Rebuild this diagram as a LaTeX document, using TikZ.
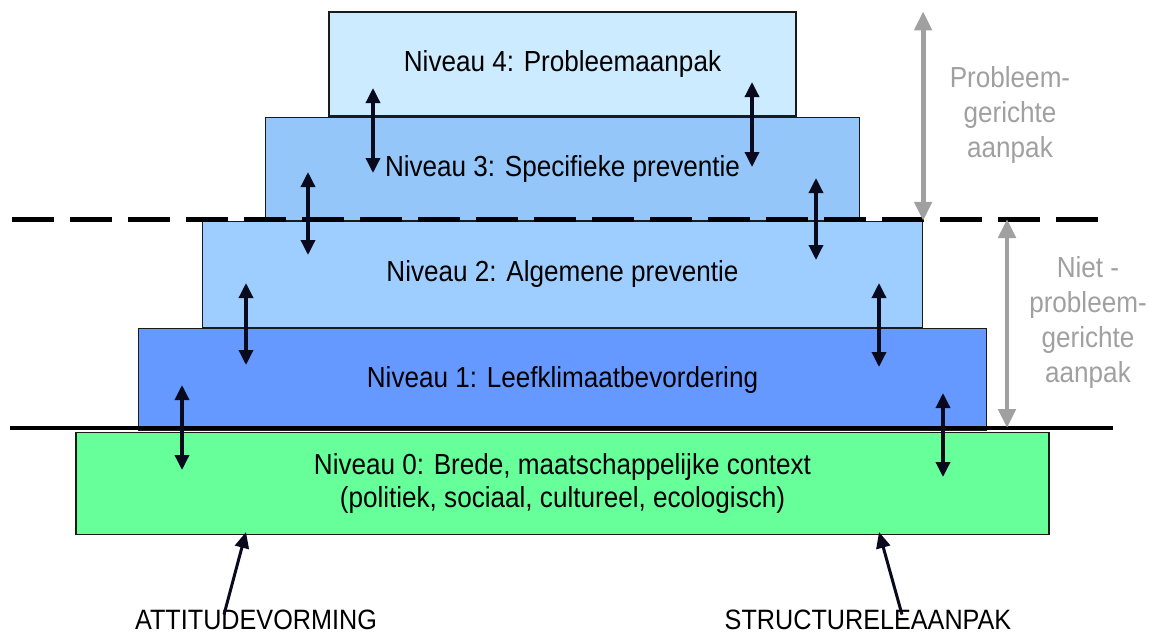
\documentclass[tikz,border=0pt]{standalone}
\usepackage{fontspec}
\setmainfont{Liberation Sans}[FakeStretch=0.9]
\usetikzlibrary{positioning,arrows.meta}
\definecolor{lvlfour}{HTML}{CCEBFF}
\definecolor{lvlthree}{HTML}{94C6F9}
\definecolor{lvltwo}{HTML}{9ECEFF}
\definecolor{lvlone}{HTML}{6699FF}
\definecolor{lvlzero}{HTML}{66FF99}
\definecolor{edge}{HTML}{1A1A1A}
\definecolor{ink}{HTML}{0A0A1E}
\definecolor{note}{HTML}{A0A0A0}
\tikzset{
  lvl/.style={draw=edge, fill=#1, line width=1.2pt, inner sep=0pt, align=center, font=\fontsize{29}{33}\selectfont},
  dbl/.style={{Triangle[length=15pt,width=14pt]}-{Triangle[length=15pt,width=14pt]}, line width=3.4pt, ink},
  arr/.style={-{Triangle[length=16pt,width=14pt]}, line width=3pt, ink},
  gap/.style={{Triangle[length=19pt,width=17pt]}-{Triangle[length=19pt,width=17pt]}, line width=4.8pt, note},
  notelbl/.style={font=\fontsize{29}{35}\selectfont, text=note, align=center},
  lowlbl/.style={font=\fontsize{28}{32}\selectfont},
}
\begin{document}
\begin{tikzpicture}[x=1pt, y=-1pt, node distance=0pt]
  \useasboundingbox (0,0) rectangle (1149,635);
  % the five levels, stacked from the top down
  \node[lvl=lvlfour, minimum width=467pt, minimum height=104pt] (n4) at (562.5,64) {Niveau 4: Probleemaanpak};
  \node[lvl=lvlthree, below=of n4, minimum width=594pt, minimum height=103pt] (n3) {Niveau 3: Specifieke preventie};
  \node[lvl=lvltwo, below=of n3, minimum width=720pt, minimum height=106pt] (n2) {Niveau 2: Algemene preventie};
  \node[lvl=lvlone, below=of n2, minimum width=848pt, minimum height=102pt] (n1) {Niveau 1: Leefklimaatbevordering};
  \node[lvl=lvlzero, below=1pt of n1, minimum width=973pt, minimum height=102pt] (n0) {Niveau 0: Brede, maatschappelijke context\\(politiek, sociaal, cultureel, ecologisch)};
  % dividing lines
  \draw[line width=5pt, dash pattern=on 42pt off 16pt] (12,219) -- (1103,219);
  \draw[line width=4pt] (10,428) -- (1113,428);
  % links between the levels
  \foreach \x/\ya/\yb in {373/88/173, 752/82/167, 308/172/255, 816/178/260, 246/283/365, 879/283/367, 182/385/470, 943/393/477}
    \draw[dbl] (\x,\ya) -- (\x,\yb);
  % approach on the right
  \coordinate (g1) at (1007,219);
  \coordinate (g2) at (1007,428);
  \draw[gap] (n4.north -| n2.east) -- (n2.north east);
  \draw[gap] (g1) -- (g2);
  \node[notelbl] (pga) at (1010,115) {Probleem-\\gerichte\\aanpak};
  \node[notelbl] (npga) at (1088,322) {Niet -\\probleem-\\gerichte\\aanpak};
  % bottom labels
  \node[lowlbl] (att) at (256,620) {ATTITUDEVORMING};
  \node[lowlbl] (str) at (868,620) {STRUCTURELEAANPAK};
  \coordinate (atthd) at (246,532);
  \coordinate (strhd) at (879,532);
  \draw[arr] ([xshift=-32pt,yshift=-8pt]att.north) -- (atthd);
  \draw[arr] ([xshift=34pt,yshift=-8pt]str.north) -- (strhd);
\end{tikzpicture}
\end{document}
